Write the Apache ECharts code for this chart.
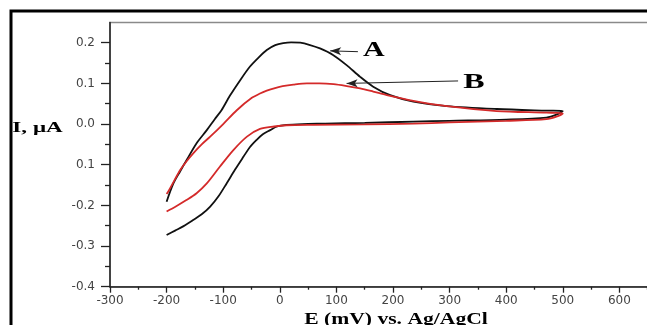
<!DOCTYPE html>
<html><head><meta charset="utf-8">
<script src="https://cdn.jsdelivr.net/npm/echarts@6/dist/echarts.min.js"></script>
<style>html,body{margin:0;padding:0;background:#fff}#c{width:647px;height:325px}</style>
</head><body><div id="c"></div>
<script>
// ---- Data (potential E in mV, current I in µA) ----
const curveA_forwardE = [-200,-188,-176,-164,-147,-129,-115,-103,-88,-70,-53,-38,-23,-8,6,20,36,52,71,94,118,142,165,195,236,295,383,471,500];
const curveA_forwardI = [-0.191,-0.146,-0.116,-0.087,-0.047,-0.015,0.012,0.034,0.070,0.108,0.141,0.163,0.182,0.194,0.199,0.201,0.200,0.195,0.186,0.170,0.145,0.116,0.092,0.071,0.055,0.044,0.037,0.033,0.032];
const curveA_reverseE = [500,490,471,400,300,236,150,80,40,12,-5,-17,-30,-41,-53,-64,-79,-94,-108,-123,-138,-153,-170,-185,-200];
const curveA_reverseI = [0.032,0.024,0.016,0.011,0.008,0.006,0.003,0.001,0.000,-0.002,-0.006,-0.015,-0.025,-0.039,-0.057,-0.080,-0.112,-0.146,-0.177,-0.203,-0.222,-0.236,-0.251,-0.262,-0.273];

const curveB_forwardE = [-200,-197,-186,-176,-165,-153,-138,-123,-100,-76,-50,-35,-23,-10,5,24,48,70,95,124,142,165,189,236,295,383,471,500];
const curveB_forwardI = [-0.172,-0.166,-0.138,-0.113,-0.092,-0.072,-0.050,-0.031,0.000,0.034,0.064,0.075,0.082,0.088,0.093,0.097,0.100,0.100,0.098,0.092,0.088,0.080,0.071,0.057,0.044,0.032,0.028,0.026];
const curveB_reverseE = [500,490,471,400,300,236,150,60,12,-10,-35,-58,-82,-106,-129,-147,-165,-183,-200];
const curveB_reverseI = [0.026,0.019,0.012,0.008,0.004,0.001,-0.001,-0.002,-0.003,-0.006,-0.012,-0.031,-0.064,-0.105,-0.146,-0.170,-0.187,-0.202,-0.215];

const seriesNames = ['A', 'B'];
const xTickValues = [-300,-200,-100,0,100,200,300,400,500,600];
const xMinorTickValues = [-250,-150,-50,50,150,250,350,450,550,650];
const yTickValues = [-0.4,-0.3,-0.2,-0.1,0.0,0.1,0.2];
const yTickLabels = ['-0.4','-0.3','-0.2','0.1','0.0','0.1','0.2'];
const yMinorTickValues = [-0.35,-0.25,-0.15,-0.05,0.05,0.15];
const xAxisTitle = 'E (mV) vs. Ag/AgCl';
const yAxisTitle = 'I, μA';
// annotation arrows: [fromE, fromI, toE, toI]
const arrowA = [138, 0.178, 89, 0.180];
const arrowB = [315, 0.106, 118, 0.100];
const labelA = [166, 0.179];
const labelB = [343, 0.101];

function pairs(E, I) { return E.map((e, i) => [e, I[i]]); }
const dataA = pairs(curveA_forwardE, curveA_forwardI).concat(pairs(curveA_reverseE, curveA_reverseI));
const dataB = pairs(curveB_forwardE, curveB_forwardI).concat(pairs(curveB_reverseE, curveB_reverseI));

const chart = echarts.init(document.getElementById('c'), null, {renderer: 'canvas'});
const labelFont = {fontFamily: 'DejaVu Sans', fontSize: 12, color: '#444'};
const axisLineStyle = {color: '#222', width: 1.5};

function arrowLine(a) {
  return {
    silent: true, animation: false,
    symbol: ['none', 'arrow'], symbolSize: [6, 11],
    label: {show: false},
    lineStyle: {color: '#222', width: 1, type: 'solid'},
    emphasis: {disabled: true},
    data: [[{coord: [a[0], a[1]]}, {coord: [a[2], a[3]]}]]
  };
}

const option = {
  backgroundColor: '#fff',
  animation: false,
  grid: {left: 110, top: 22.4, width: 566, height: 264.3, show: true, borderColor: '#8a8a8a', borderWidth: 1.5,
    containLabel: false, outerBoundsMode: 'none'},
  xAxis: [{
    type: 'value', min: -300, max: 700, interval: 100,
    axisLine: {show: true, onZero: false, lineStyle: axisLineStyle},
    axisTick: {show: true, inside: false, length: 6, customValues: xTickValues, lineStyle: {color: '#222', width: 1.3}},
    axisLabel: Object.assign({margin: 8, customValues: xTickValues}, labelFont),
    splitLine: {show: false}
  }, {
    type: 'value', min: -300, max: 700, position: 'bottom',
    axisLine: {show: false, onZero: false},
    axisTick: {show: true, inside: false, length: 3, customValues: xMinorTickValues, lineStyle: {color: '#222', width: 1.3}},
    axisLabel: {show: false},
    splitLine: {show: false}
  }],
  yAxis: [{
    type: 'value', min: -0.4, max: 0.25, interval: 0.1,
    axisLine: {show: true, onZero: false, lineStyle: axisLineStyle},
    axisTick: {show: true, inside: false, length: 9, customValues: yTickValues, lineStyle: {color: '#222', width: 1.3}},
    axisLabel: Object.assign({margin: 15, customValues: yTickValues, formatter: function (v) {
      let idx = yTickValues.findIndex(t => Math.abs(t - v) < 1e-6);
      return idx >= 0 ? yTickLabels[idx] : '';
    }}, labelFont),
    splitLine: {show: false}
  }, {
    type: 'value', min: -0.4, max: 0.25, position: 'left',
    axisLine: {show: false, onZero: false},
    axisTick: {show: true, inside: false, length: 5, customValues: yMinorTickValues, lineStyle: {color: '#222', width: 1.3}},
    axisLabel: {show: false},
    splitLine: {show: false}
  }],
  series: [{
    name: seriesNames[0], type: 'line', data: dataA, xAxisIndex: 0, yAxisIndex: 0,
    showSymbol: false, smooth: 0.3, lineStyle: {color: '#111', width: 1.8}, z: 2,
    markLine: arrowLine(arrowA)
  }, {
    name: seriesNames[1], type: 'line', data: dataB, xAxisIndex: 0, yAxisIndex: 0,
    showSymbol: false, smooth: 0.3, lineStyle: {color: '#d42a2a', width: 1.8}, z: 3,
    markLine: arrowLine(arrowB)
  }]
};
chart.setOption(option);

const pA = chart.convertToPixel({xAxisIndex: 0, yAxisIndex: 0}, labelA);
const pB = chart.convertToPixel({xAxisIndex: 0, yAxisIndex: 0}, labelB);
function txt(x, y, s, size, sx) {
  return {type: 'text', x: x, y: y, scaleX: sx, z: 10,
    style: {text: s, font: 'bold ' + size + 'px "Liberation Serif", "Times New Roman", serif', fill: '#000',
      textAlign: 'center', textVerticalAlign: 'middle', align: 'center', verticalAlign: 'middle'}};
}
chart.setOption({graphic: [
  {type: 'rect', shape: {x: 11, y: 11, width: 700, height: 400}, style: {fill: 'none', stroke: '#000', lineWidth: 3}, z: 10},
  txt(pA[0], pA[1], seriesNames[0], 20, 1.5),
  txt(pB[0], pB[1], seriesNames[1], 20, 1.6),
  txt(37.5, 128, yAxisTitle, 14, 1.65),
  txt(396, 320, xAxisTitle, 16, 1.35)
]});
</script>
</body></html>
